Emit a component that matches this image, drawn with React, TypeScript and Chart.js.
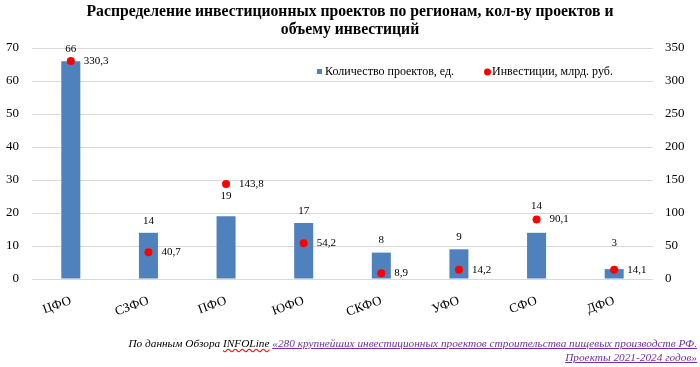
import React, { useEffect, useRef } from "react";
import { Chart, registerables } from "chart.js";

Chart.register(...registerables);

const categories = ["ЦФО", "СЗФО", "ПФО", "ЮФО", "СКФО", "УФО", "СФО", "ДФО"];
const projectCounts = [66, 14, 19, 17, 8, 9, 14, 3];
const investments = [330.3, 40.7, 143.8, 54.2, 8.9, 14.2, 90.1, 14.1];
const leftTicks = [0, 10, 20, 30, 40, 50, 60, 70];
const rightTicks = [0, 50, 100, 150, 200, 250, 300, 350];

const titleLines = [
  "Распределение инвестиционных проектов по регионам, кол-ву проектов и",
  "объему инвестиций",
];
const seriesNames = ["Количество проектов, ед.", "Инвестиции, млрд. руб."];

// extra upward shift (px) of individual bar labels, as placed in the original
const barLabelLift = [0, 0, 8, 0, 0, 0, 15, 14];

const SERIF = '"Liberation Serif", "Times New Roman", serif';
const BAR_COLOR = "#4F81BD";
const POINT_COLOR = "#FF0000";

const overlayPlugin = {
  id: "overlay",
  afterDatasetsDraw(chart: any) {
    const ctx = chart.ctx;
    ctx.save();
    ctx.fillStyle = "#000";
    ctx.font = `11px ${SERIF}`;
    const barMeta = chart.getDatasetMeta(0);
    barMeta.data.forEach((el: any, i: number) => {
      ctx.textAlign = "center";
      ctx.textBaseline = "middle";
      ctx.fillText(String(projectCounts[i]), el.x, el.y - 12 - barLabelLift[i]);
    });
    const ptMeta = chart.getDatasetMeta(1);
    ptMeta.data.forEach((el: any, i: number) => {
      ctx.textAlign = "left";
      ctx.textBaseline = "middle";
      ctx.fillText(String(investments[i]).replace(".", ","), el.x + 13, el.y);
    });
    ctx.restore();
  },
  afterDraw(chart: any) {
    const ctx = chart.ctx;
    ctx.save();
    // title
    ctx.fillStyle = "#000";
    ctx.font = `bold 15.7px ${SERIF}`;
    ctx.textAlign = "center";
    ctx.textBaseline = "middle";
    ctx.fillText(titleLines[0], 350, 12);
    ctx.fillText(titleLines[1], 350, 30);
    // legend
    ctx.font = `12px ${SERIF}`;
    ctx.textAlign = "left";
    ctx.fillStyle = BAR_COLOR;
    ctx.fillRect(317, 69, 5, 5);
    ctx.fillStyle = "#000";
    ctx.fillText(seriesNames[0], 325, 72);
    ctx.fillStyle = POINT_COLOR;
    ctx.beginPath();
    ctx.arc(487.5, 72, 3.5, 0, Math.PI * 2);
    ctx.fill();
    ctx.fillStyle = "#000";
    ctx.fillText(seriesNames[1], 492, 72);
    ctx.restore();
  },
};

export default function App() {
  const ref = useRef<HTMLCanvasElement>(null);
  useEffect(() => {
    if (!ref.current) return;
    const chart = new Chart(ref.current, {
      type: "bar",
      data: {
        labels: categories,
        datasets: [
          {
            type: "bar",
            label: seriesNames[0],
            data: projectCounts,
            backgroundColor: BAR_COLOR,
            barPercentage: 0.245,
            categoryPercentage: 1,
            yAxisID: "y",
            order: 2,
          },
          {
            type: "line",
            label: seriesNames[1],
            data: investments,
            showLine: false,
            pointRadius: 4,
            pointBorderWidth: 0,
            pointBackgroundColor: POINT_COLOR,
            pointBorderColor: POINT_COLOR,
            borderColor: POINT_COLOR,
            backgroundColor: POINT_COLOR,
            yAxisID: "y1",
            order: 1,
          } as any,
        ],
      },
      options: {
        responsive: false,
        animation: false,
        layout: { padding: { top: 48, left: 0, right: 0, bottom: 0 } },
        plugins: {
          legend: { display: false },
          title: { display: false },
          tooltip: { enabled: false },
        },
        scales: {
          x: {
            grid: { display: false },
            border: { display: false },
            ticks: {
              font: { family: SERIF, size: 13 },
              color: "#000",
              minRotation: 20,
              maxRotation: 20,
              padding: 6,
            },
            afterFit(scale: any) {
              scale.height = 88;
            },
          },
          y: {
            position: "left",
            min: 0,
            max: 70,
            afterBuildTicks(scale: any) {
              scale.ticks = leftTicks.map((v) => ({ value: v }));
            },
            grid: { color: "#D9D9D9", drawTicks: false },
            border: { display: false },
            ticks: {
              font: { family: SERIF, size: 13 },
              color: "#000",
              padding: 13,
            },
            afterFit(scale: any) {
              scale.width = 32;
            },
          },
          y1: {
            position: "right",
            min: 0,
            max: 350,
            afterBuildTicks(scale: any) {
              scale.ticks = rightTicks.map((v) => ({ value: v }));
            },
            grid: { display: false, drawTicks: false },
            border: { display: false },
            ticks: {
              font: { family: SERIF, size: 13 },
              color: "#000",
              padding: 12,
            },
            afterFit(scale: any) {
              scale.width = 47;
            },
          },
        },
      },
      plugins: [overlayPlugin],
    });
    return () => chart.destroy();
  }, []);

  const footStyle: React.CSSProperties = {
    position: "absolute",
    right: 3,
    top: 336,
    width: 640,
    textAlign: "right",
    fontFamily: SERIF,
    fontStyle: "italic",
    fontSize: 11.3,
    lineHeight: "14px",
    color: "#000",
  };
  const linkStyle: React.CSSProperties = {
    color: "#7030A0",
    textDecoration: "underline",
  };

  return (
    <div style={{ position: "fixed", left: 0, top: 0, width: 700, height: 367, background: "#fff" }}>
      <canvas ref={ref} width={700} height={367} style={{ display: "block", width: 700, height: 367 }} />
      <div style={footStyle}>
        По данным Обзора{" "}
        <span style={{ textDecoration: "underline wavy red" }}>INFOLine</span>{" "}
        <span style={linkStyle}>
          «280 крупнейших инвестиционных проектов строительства пищевых производств РФ.
        </span>
        <br />
        <span style={linkStyle}>Проекты 2021-2024 годов»</span>
      </div>
    </div>
  );
}
